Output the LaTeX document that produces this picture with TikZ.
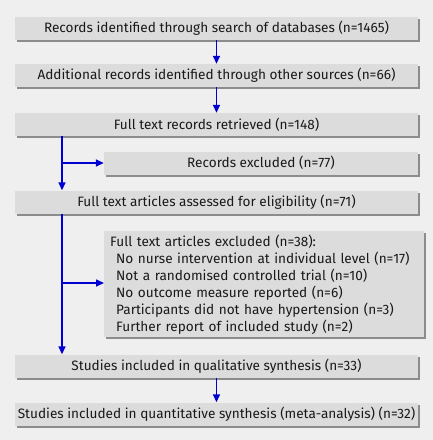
\documentclass[tikz,border=0pt]{standalone}
\usepackage{fontspec}
\setmainfont{Fira Sans}
\usetikzlibrary{arrows.meta,shadows}
\definecolor{bgc}{HTML}{EFEFEF}
\definecolor{boxc}{HTML}{DCDCDC}
\definecolor{shc}{HTML}{8C8C8C}
\definecolor{arrc}{HTML}{0000D0}
\begin{document}
\begin{tikzpicture}[x=1pt,y=-1pt,
  font=\fontsize{13.6}{17}\selectfont,
  box/.style={fill=boxc, inner sep=0pt, minimum height=23pt, text=black!90,
    drop shadow={shadow xshift=2pt, shadow yshift=-2pt, fill=shc, opacity=1}},
  wide/.style={box, minimum width=403pt},
  narrow/.style={box, minimum width=314pt},
  arr/.style={draw=arrc, line width=1.6pt, -{Triangle[width=7pt,length=8pt]}, arrc}
]
\fill[bgc] (0,0) rectangle (433,440);
\useasboundingbox (0,0) rectangle (433,440);
\coordinate (lx) at (62,0);
\node[wide] (b1) at (216.5,28.5) {Records identified through search of databases (n=1465)};
\node[wide] (b2) at (216.5,75.5) {Additional records identified through other sources (n=66)};
\node[wide] (b3) at (216.5,124.5) {Full text records retrieved (n=148)};
\node[narrow] (e1) at (261,163) {Records excluded (n=77)};
\node[wide] (b4) at (216.5,202) {Full text articles assessed for eligibility (n=71)};
\node[box, anchor=north west, text width=308pt, align=left, inner xsep=6pt, inner ysep=2pt, minimum height=106pt] (e2) at (104,231) {Full text articles excluded (n=38):\\
\hspace*{6pt}No nurse intervention at individual level (n=17)\\
\hspace*{6pt}Not a randomised controlled trial (n=10)\\
\hspace*{6pt}No outcome measure reported (n=6)\\
\hspace*{6pt}Participants did not have hypertension (n=3)\\
\hspace*{6pt}Further report of included study (n=2)};
\node[wide] (b6) at (216.5,366) {Studies included in qualitative synthesis (n=33)};
\node[wide] (b7) at (216.5,414) {Studies included in quantitative synthesis (meta-analysis) (n=32)};
\draw[arr] (b1) -- (b2);
\draw[arr] (b2) -- (b3);
\draw[arr] (b3.south -| lx) -- (b4.north -| lx);
\draw[arr] (e1.west -| lx) -- (e1.west);
\draw[arr] (b4.south -| lx) -- (b6.north -| lx);
\coordinate (e2a) at (104,283);
\draw[arr] (e2a -| lx) -- (e2a);
\draw[arr] (b6) -- (b7);
\end{tikzpicture}
\end{document}
